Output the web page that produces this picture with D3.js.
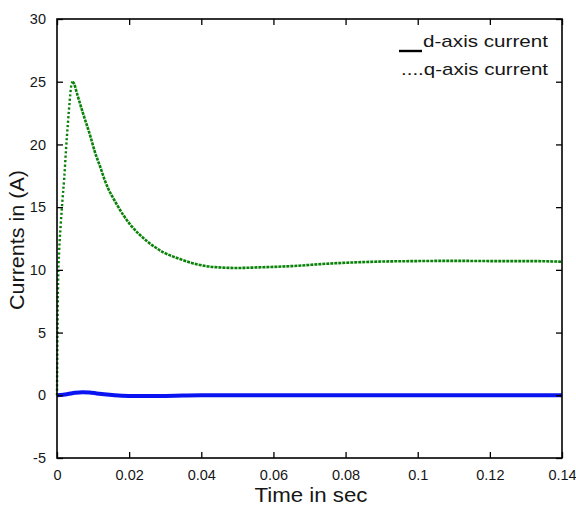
<!DOCTYPE html>
<html>
<head>
<meta charset="utf-8">
<script src="https://cdn.jsdelivr.net/npm/d3@7/dist/d3.min.js"></script>
<style>
html,body{margin:0;padding:0;background:#fff;}
svg{display:block;}
text{font-family:"Liberation Sans",Arial,sans-serif;fill:#161616;}
</style>
</head>
<body>
<script>
// ---- data ----
const xTicks = [0, 0.02, 0.04, 0.06, 0.08, 0.1, 0.12, 0.14];
const xTickLabels = ["0", "0.02", "0.04", "0.06", "0.08", "0.1", "0.12", "0.14"];
const yTicks = [-5, 0, 5, 10, 15, 20, 25, 30];
const yTickLabels = ["-5", "0", "5", "10", "15", "20", "25", "30"];

const qTime = [0, 0.0001, 0.0003, 0.0006, 0.001, 0.0015, 0.002, 0.0025, 0.003, 0.0035, 0.0039, 0.0043,
  0.0048, 0.0055, 0.0073, 0.0092, 0.0105, 0.012, 0.0133, 0.0165, 0.0202, 0.0249, 0.0295, 0.0341, 0.0387, 0.0437,
  0.05, 0.056, 0.065, 0.0755, 0.088, 0.1, 0.11, 0.12, 0.13, 0.14];
const qCurrent = [0, 4, 9, 11.5, 13.5, 15.5, 17.3, 19.6, 21.6, 23.4, 24.6, 25.0,
  24.8, 24.1, 22.4, 20.7, 19.4, 18.2, 17.1, 15.25, 13.65, 12.3, 11.4, 10.86, 10.45, 10.22,
  10.15, 10.2, 10.3, 10.5, 10.65, 10.7, 10.72, 10.7, 10.7, 10.65];
const qPeakIndex = 11;

const dTime = [0, 0.001, 0.003, 0.005, 0.007, 0.009, 0.011, 0.013, 0.016, 0.02, 0.025, 0.03, 0.035, 0.04, 0.06, 0.08, 0.1, 0.12, 0.14];
const dCurrent = [0, 0.02, 0.1, 0.2, 0.25, 0.22, 0.15, 0.08, 0.0, -0.05, -0.06, -0.05, -0.02, 0, 0, 0, 0, 0, 0];

const legendLabels = ["d-axis current", "....q-axis current"];
const xTitle = "Time in sec";
const yTitle = "Currents in (A)";

// ---- layout ----
const W = 576, H = 507;
const mLeft = 57, mRight = 562, mTop = 19, mBottom = 458;

const svg = d3.select("body").append("svg").attr("width", W).attr("height", H);

const x = d3.scaleLinear().domain([0, 0.14]).range([mLeft, mRight]);
const y = d3.scaleLinear().domain([-5, 30]).range([mBottom, mTop]);

const qPoints = qTime.map((t, i) => [t, qCurrent[i]]);
const dPoints = dTime.map((t, i) => [t, dCurrent[i]]);
const line = d3.line().x(d => x(d[0])).y(d => y(d[1])).curve(d3.curveMonotoneX);

svg.append("path").datum(dPoints)
  .attr("d", line)
  .attr("fill", "none")
  .attr("stroke", "#0a14f0")
  .attr("stroke-width", 4);

// rise part (sparse dots) and decay part (dense dots)
svg.append("path").datum(qPoints.slice(0, qPeakIndex + 1))
  .attr("d", line)
  .attr("fill", "none")
  .attr("stroke", "#0a820a")
  .attr("stroke-width", 2.4)
  .attr("stroke-dasharray", "2.2,2.2");
svg.append("path").datum(qPoints.slice(qPeakIndex))
  .attr("d", line)
  .attr("fill", "none")
  .attr("stroke", "#0a820a")
  .attr("stroke-width", 2.6)
  .attr("stroke-dasharray", "3,1");

// axes (ticks inward)
const tickLen = 6;
const axB = d3.axisBottom(x).tickValues(xTicks).tickSize(-tickLen).tickPadding(12).tickFormat((d, i) => xTickLabels[i]);
const axT = d3.axisTop(x).tickValues(xTicks).tickSize(-tickLen).tickFormat("");
const axL = d3.axisLeft(y).tickValues(yTicks).tickSize(-tickLen).tickPadding(11).tickFormat((d, i) => yTickLabels[i]);
const axR = d3.axisRight(y).tickValues(yTicks).tickSize(-tickLen).tickFormat("");

function styleAxis(g) {
  g.select(".domain").remove();
  g.selectAll(".tick line").attr("stroke", "#000").attr("stroke-width", 1.3);
  g.selectAll(".tick text").style("font-family", '"Liberation Sans",Arial,sans-serif')
    .style("font-size", "14.5px").attr("fill", "#1a1a33");
}
svg.append("g").attr("transform", `translate(0,${mBottom})`).call(axB).call(styleAxis);
svg.append("g").attr("transform", `translate(0,${mTop})`).call(axT).call(styleAxis);
svg.append("g").attr("transform", `translate(${mLeft},0)`).call(axL).call(styleAxis);
svg.append("g").attr("transform", `translate(${mRight},0)`).call(axR).call(styleAxis);

// frame
svg.append("rect").attr("x", mLeft).attr("y", mTop)
  .attr("width", mRight - mLeft).attr("height", mBottom - mTop)
  .attr("fill", "none").attr("stroke", "#000").attr("stroke-width", 1.6);

// legend
svg.append("line").attr("x1", 399).attr("x2", 422).attr("y1", 51).attr("y2", 51)
  .attr("stroke", "#000").attr("stroke-width", 2.4);
svg.append("text").attr("x", 548).attr("y", 47).attr("text-anchor", "end")
  .style("font-size", "17px").attr("textLength", 125).attr("lengthAdjust", "spacingAndGlyphs")
  .text(legendLabels[0]);
svg.append("text").attr("x", 548).attr("y", 75).attr("text-anchor", "end")
  .style("font-size", "17px").attr("textLength", 147).attr("lengthAdjust", "spacingAndGlyphs")
  .text(legendLabels[1]);

// axis titles
svg.append("text").attr("x", 311).attr("y", 502).attr("text-anchor", "middle")
  .style("font-size", "20px").attr("textLength", 113).attr("lengthAdjust", "spacingAndGlyphs")
  .text(xTitle);
svg.append("text").attr("transform", "translate(24,240) rotate(-90)").attr("text-anchor", "middle")
  .style("font-size", "21px").attr("textLength", 140).attr("lengthAdjust", "spacingAndGlyphs")
  .text(yTitle);
</script>
</body>
</html>
